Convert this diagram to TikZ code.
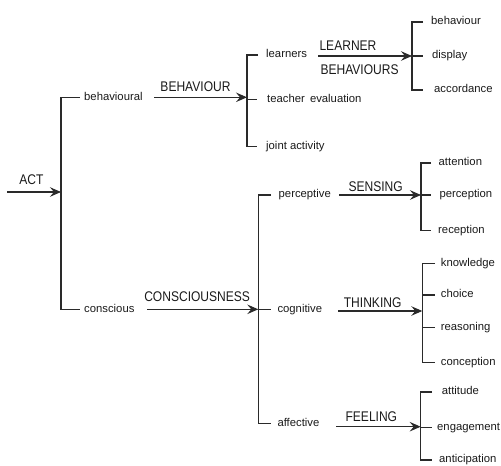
\documentclass[tikz,border=0pt]{standalone}
\usepackage{fontspec}
\setmainfont{Liberation Sans}
\newfontfamily\plainsans{Liberation Sans}
\newfontfamily\narrowsans[FakeStretch=0.86]{Liberation Sans}
\usetikzlibrary{arrows.meta}
\newcommand\lowtxt{\plainsans\fontsize{11.3}{13}\selectfont}
\newcommand\uptxt{\narrowsans\fontsize{14}{16}\selectfont}
\definecolor{ln}{HTML}{2A2A2A}
\definecolor{tx}{HTML}{1A1A1A}
\begin{document}
\begin{tikzpicture}[x=1pt,y=-1pt,
  lnk/.style={draw=ln,line width=1.1pt},
  arr/.style={lnk,-{Stealth[length=11pt,width=9.5pt,inset=4pt]}},
  lab/.style={font=\lowtxt,text=tx,inner sep=0pt,anchor=west,text height=5.8pt,text depth=0pt},
  captxt/.style={font=\uptxt,text=tx,inner sep=0pt,text height=10pt,text depth=0pt}]
\useasboundingbox (0,0) rectangle (501,466);

% level 1
\coordinate (actS) at (7,192);
\coordinate (actE) at (61,192);
\draw[arr] (actS) -- (actE) node[captxt,midway,anchor=south,xshift=-2.5pt,yshift=7pt] (actL) {ACT};
\node[lab] (behav) at (84,97.3) {behavioural};
\node[lab] (consc) at (84,309.3) {conscious};
\draw[lnk] ([xshift=-4pt]behav.west) -| (actE) |- ([xshift=-4pt]consc.west);

% BEHAVIOUR branch
\coordinate (bS) at (154,97.3);
\coordinate (bE) at (247,97.3);
\draw[arr] (bS) -- (bE) node[captxt,midway,anchor=south,xshift=-5pt,yshift=5.6pt] (bL) {BEHAVIOUR};
\node[lab] (learn) at (266,55) {learners};
\node[lab] (teach) at (267,99.3) {teacher\hspace{2pt} evaluation};
\node[lab] (joint) at (266,146.5) {joint activity};
\draw[lnk] ([xshift=-8pt]learn.west) -| (bE) |- ([xshift=-9pt]joint.west);
\draw[lnk] (teach.west -| bE) -- ([xshift=-10pt]teach.west);

% LEARNER BEHAVIOURS branch
\coordinate (lS) at (318,56);
\coordinate (lE) at (412,56);
\draw[arr] (lS) -- (lE)
  node[captxt,pos=0,anchor=south west,xshift=1pt,yshift=4.5pt] (lL1) {LEARNER}
  node[captxt,pos=0,anchor=north west,xshift=2pt,yshift=-8pt] (lL2) {BEHAVIOURS};
\node[lab] (bhv) at (431,22) {behaviour};
\node[lab] (disp) at (432,56) {display};
\node[lab] (acc) at (434,90) {accordance};
\draw[lnk] ([xshift=-8pt]bhv.west) -| (lE) |- ([xshift=-11pt]acc.west);
\draw[lnk] (disp.west -| lE) -- ([xshift=-9pt]disp.west);

% CONSCIOUSNESS branch
\coordinate (cS) at (147,309.3);
\coordinate (cE) at (258.3,309.3);
\draw[arr] (cS) -- (cE) node[captxt,midway,anchor=south,xshift=-5.5pt,yshift=7pt] (cL) {CONSCIOUSNESS};
\node[lab] (perc) at (278.5,195) {perceptive};
\node[lab] (cog) at (277.3,309.3) {cognitive};
\node[lab] (aff) at (277.3,423.3) {affective};
\draw[lnk] ([xshift=-7.5pt]perc.west) -| (cE) |- ([xshift=-6.3pt]aff.west);
\draw[lnk] (cog.west -| cE) -- ([xshift=-6.3pt]cog.west);

% SENSING branch
\coordinate (sS) at (339.3,195);
\coordinate (sE) at (421,195);
\draw[arr] (sS) -- (sE) node[captxt,midway,anchor=south,xshift=-4.5pt,yshift=2.5pt] (sL) {SENSING};
\node[lab] (att) at (438.5,163) {attention};
\node[lab] (percp) at (439.3,195) {perception};
\node[lab] (recp) at (438,230.7) {reception};
\draw[lnk] ([xshift=-7.5pt]att.west) -| (sE) |- ([xshift=-7pt]recp.west);
\draw[lnk] (percp.west -| sE) -- ([xshift=-8.3pt]percp.west);

% THINKING branch
\coordinate (tS) at (338,311);
\coordinate (tE) at (422.3,311);
\draw[arr] (tS) -- (tE) node[captxt,midway,anchor=south,xshift=-7.5pt,yshift=2.7pt] (tL) {THINKING};
\node[lab] (know) at (440.7,263.3) {knowledge};
\node[lab] (cho) at (440.7,295) {choice};
\node[lab] (reas) at (440.7,327.7) {reasoning};
\node[lab] (conc) at (440.7,362.3) {conception};
\draw[lnk] ([xshift=-5.7pt]know.west) -| (tE) |- ([xshift=-5.7pt]conc.west);
\draw[lnk] (cho.west -| tE) -- ([xshift=-5.7pt]cho.west);
\draw[lnk] (reas.west -| tE) -- ([xshift=-5.7pt]reas.west);

% FEELING branch
\coordinate (fS) at (336,426.7);
\coordinate (fE) at (420.7,426.7);
\draw[arr] (fS) -- (fE) node[captxt,midway,anchor=south,xshift=-7pt,yshift=4.4pt] (fL) {FEELING};
\node[lab] (atti) at (441.7,392) {attitude};
\node[lab] (eng) at (437,427.7) {engagement};
\node[lab] (anti) at (439,460) {anticipation};
\draw[lnk] ([xshift=-9.7pt]atti.west) -| (fE) |- ([xshift=-7pt]anti.west);
\draw[lnk] (eng.west -| fE) -- ([xshift=-5pt]eng.west);
\end{tikzpicture}
\end{document}
